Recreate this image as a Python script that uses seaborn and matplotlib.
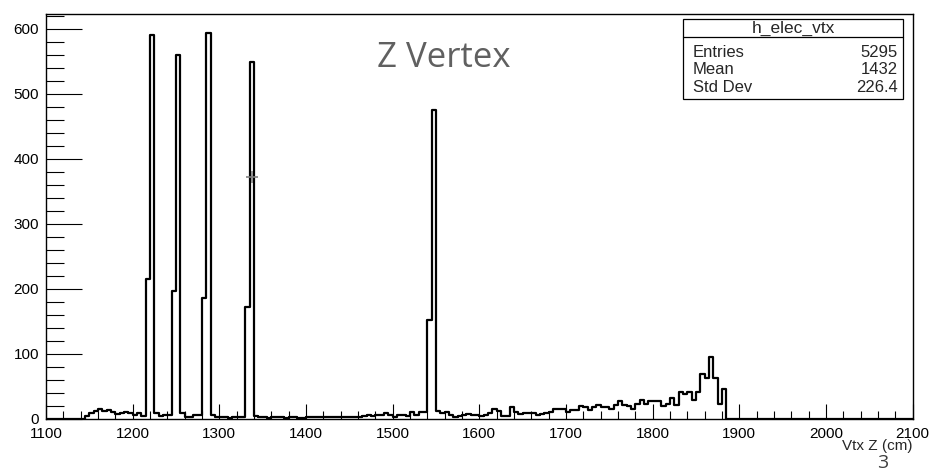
import numpy as np
import pandas as pd
import matplotlib
matplotlib.use("Agg")
import matplotlib.pyplot as plt
import seaborn as sns
from matplotlib.patches import Rectangle
from matplotlib.lines import Line2D
from matplotlib.ticker import MultipleLocator

# Histogram binning (cm)
x_low, x_high, bin_width = 1100, 2100, 5
first_filled_edge = 1145

# Entries per 5 cm bin, starting at 1145 cm
counts_1145_1210 = [4, 8, 12, 14, 12, 13, 10, 7, 9, 10, 8, 5, 8, 4]
counts_1215_1275 = [215, 590, 8, 4, 6, 5, 197, 560, 9, 3, 3, 5, 6]
counts_1280_1335 = [185, 593, 6, 3, 2, 2, 1, 2, 3, 3, 172, 548]
counts_1340_1435 = [4, 2, 3, 1, 2, 2, 3, 1, 2, 3, 1, 1, 2, 2, 3, 2, 2, 3, 3, 2]
counts_1440_1535 = [2, 3, 2, 2, 3, 4, 6, 4, 5, 5, 8, 6, 2, 5, 5, 4, 10, 6, 10, 10]
counts_1540_1545 = [152, 475]
counts_1550_1645 = [11, 9, 10, 5, 2, 4, 5, 7, 5, 5, 4, 5, 9, 15, 12, 4, 4, 17, 10, 7]
counts_1650_1745 = [8, 8, 8, 5, 7, 8, 10, 14, 14, 14, 10, 13, 13, 19, 17, 13, 18, 21, 17, 17]
counts_1750_1845 = [14, 21, 27, 21, 19, 14, 22, 29, 22, 27, 27, 27, 19, 22, 32, 21, 41, 38, 41, 28]
counts_1850_1880 = [41, 68, 62, 94, 63, 22, 46]

hist_name = "h_elec_vtx"
stat_labels = ["Entries", "Mean", "Std Dev"]
stat_values = ["5295", "1432", "226.4"]
x_title = "Vtx Z (cm)"
plot_title = "Z Vertex"
page_number = "3"
cursor_mark = (1337.5, 372)

filled = (counts_1145_1210 + counts_1215_1275 + counts_1280_1335 + counts_1340_1435
          + counts_1440_1535 + counts_1540_1545 + counts_1550_1645 + counts_1650_1745
          + counts_1750_1845 + counts_1850_1880)

edges = np.arange(x_low, x_high + bin_width, bin_width)
centers = edges[:-1] + bin_width / 2
entries = np.zeros(len(centers))
start = (first_filled_edge - x_low) // bin_width
entries[start:start + len(filled)] = filled
df = pd.DataFrame({"vtx_z": centers, "entries": entries})

sns.set_theme(style="white")
plt.rcParams["font.family"] = ["Liberation Sans", "DejaVu Sans"]

W, H = 931, 475
fig = plt.figure(figsize=(W / 100, H / 100), dpi=100)
fig.patch.set_facecolor("white")


def fx(x):
    return x / W


def fy(y):
    return 1 - y / H


ax_l, ax_r, ax_t, ax_b = 46, 912.7, 14, 418.5
ax = fig.add_axes([fx(ax_l), fy(ax_b), fx(ax_r) - fx(ax_l), fy(ax_t) - fy(ax_b)])
ax.set_facecolor("white")

sns.histplot(data=df, x="vtx_z", weights="entries", binwidth=bin_width,
             binrange=(x_low, x_high), element="step", fill=False,
             color="black", linewidth=1.6, ax=ax)

ax.set_xlim(x_low, x_high)
ax.set_ylim(0, max(filled) * 1.05)
ax.set_xlabel("")
ax.set_ylabel("")

ax.xaxis.set_major_locator(MultipleLocator(100))
ax.xaxis.set_minor_locator(MultipleLocator(20))
ax.yaxis.set_major_locator(MultipleLocator(100))
ax.yaxis.set_minor_locator(MultipleLocator(20))
ax.tick_params(which="both", direction="in", color="black", width=0.8,
               bottom=True, left=True, top=False, right=False,
               labelsize=11, labelcolor="black")
ax.tick_params(axis="x", which="major", length=11, pad=6)
ax.tick_params(axis="x", which="minor", length=5.5)
ax.tick_params(axis="y", which="major", length=26, pad=5)
ax.tick_params(axis="y", which="minor", length=13)
for side in ax.spines.values():
    side.set_color("black")
    side.set_linewidth(1.0)

# gray crosshair left on the canvas
ax.plot([cursor_mark[0]], [cursor_mark[1]], marker="+", markersize=9,
        color="#808080", markeredgewidth=1.2)

ax.set_xlabel(x_title, loc="right", fontsize=11, labelpad=-1)

# statistics box
bl, br, bt, bb = 683, 903, 19.5, 99
fig.patches.append(Rectangle((fx(bl), fy(bb)), fx(br) - fx(bl), fy(bt) - fy(bb),
                             transform=fig.transFigure, facecolor="white",
                             edgecolor="black", linewidth=0.9, zorder=5))
fig.lines.append(Line2D([fx(bl), fx(br)], [fy(36.7), fy(36.7)],
                        transform=fig.transFigure, color="black", linewidth=0.9, zorder=6))
fig.text(fx((bl + br) / 2), fy(28), hist_name, ha="center", va="center",
         fontsize=12.5, zorder=7)
for i, (lab, val) in enumerate(zip(stat_labels, stat_values)):
    yy = fy(52.7 + 17.3 * i)
    fig.text(fx(693), yy, lab, ha="left", va="center", fontsize=12, zorder=7)
    fig.text(fx(898), yy, val, ha="right", va="center", fontsize=12, zorder=7)

fig.text(fx(444), fy(58), plot_title, ha="center", va="center", fontsize=25,
         color="#606060", family=["Open Sans", "DejaVu Sans"])
fig.text(fx(883), fy(463), page_number, ha="center", va="center", fontsize=14,
         color="#404040", family=["Open Sans", "DejaVu Sans"])

fig.savefig("out.png", dpi=100, facecolor="white")
